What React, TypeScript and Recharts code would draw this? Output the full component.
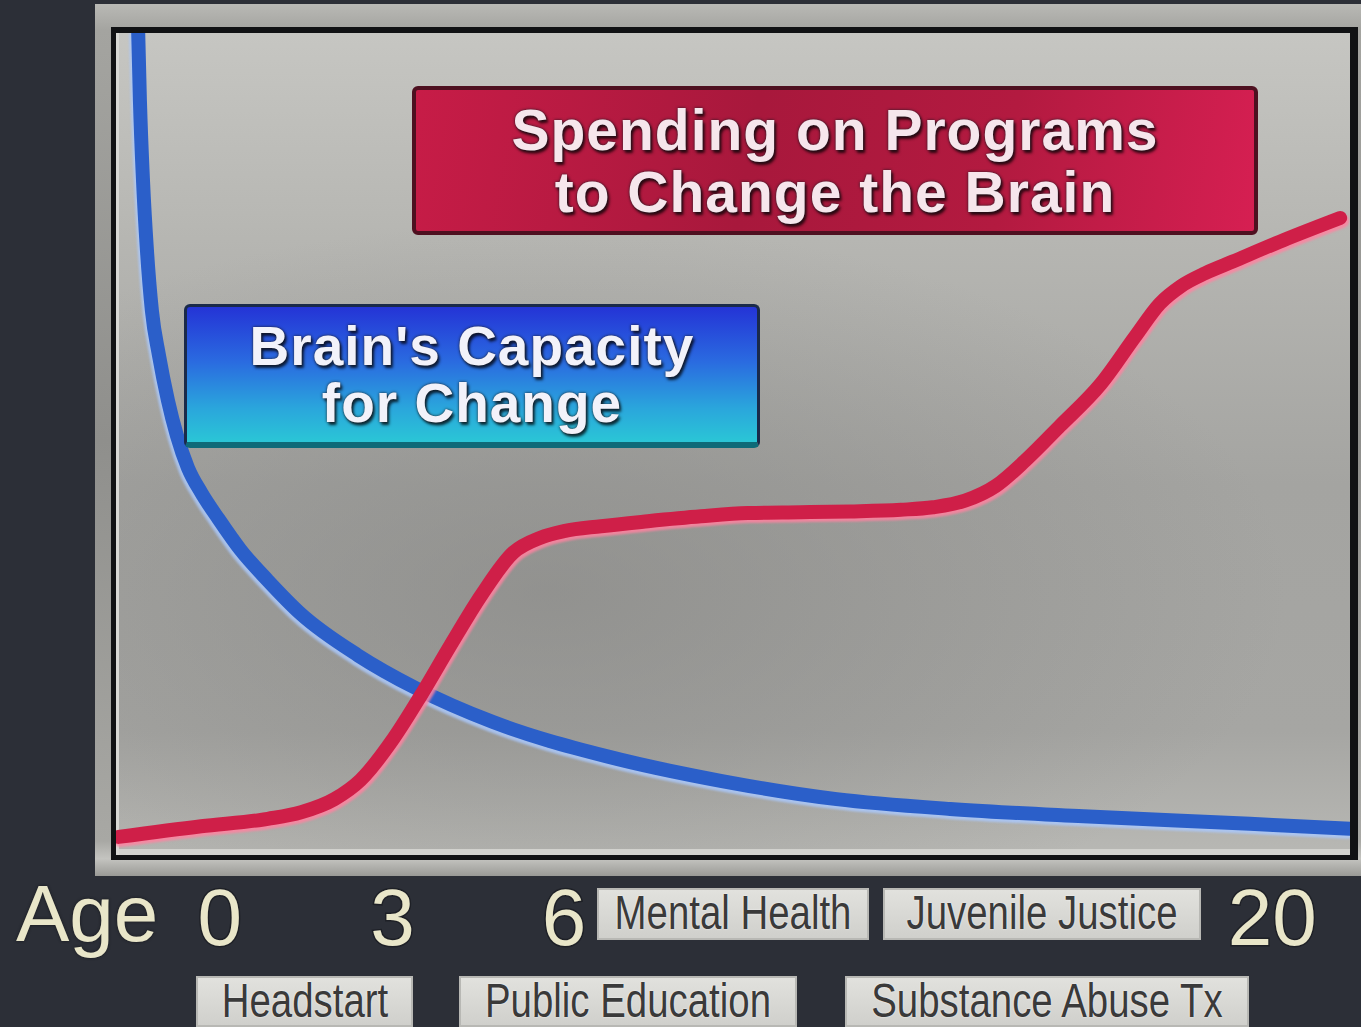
import React from 'react';
import { LineChart, Line, XAxis, YAxis } from 'recharts';

// positions across the timeline (0 = left edge of plot, 100 = right edge), levels 0..100
const brainX = [1.8, 1.94, 2.19, 2.51, 2.91, 3.48, 4.21, 4.94, 5.83, 6.9, 8.3, 10.1, 12.3, 15.0, 19.6, 24.3, 30.5, 39.8, 49.1, 58.4, 67.6, 78.4, 91.9, 100];
const brainY = [100, 91.7, 82.0, 73.5, 66.2, 60.8, 55.3, 51.0, 47.1, 44.1, 40.9, 37.1, 33.4, 29.3, 24.3, 20.3, 16.2, 12.0, 9.0, 6.8, 5.6, 4.7, 3.8, 3.2];

const spendX = [0.2, 6.9, 12.3, 15.0, 17.7, 19.8, 22.5, 24.7, 27.1, 29.6, 32.2, 34.4, 36.3, 39.3, 43.1, 47.4, 51.2, 55.5, 59.5, 63.6, 66.2, 68.8, 71.3, 73.7, 76.5, 79.8, 82.6, 84.6, 86.3, 88.3, 90.5, 94.6, 99.2];
const spendY = [2.2, 3.5, 4.4, 5.2, 6.8, 9.1, 14.2, 19.4, 25.5, 31.6, 36.8, 38.6, 39.4, 40.0, 40.6, 41.2, 41.6, 41.7, 41.8, 42.0, 42.3, 43.1, 44.9, 48.0, 52.2, 57.3, 63.1, 67.1, 69.2, 70.8, 72.2, 74.8, 77.5];

const ageTickPos = [8.4, 22.4, 36.3, 93.7];
const ageTickLabels = ['0', '3', '6', '20'];

const programsTop = ['Mental Health', 'Juvenile Justice'];
const programsBottom = ['Headstart', 'Public Education', 'Substance Abuse Tx'];

const brainData = brainX.map((x, i) => ({ x, y: brainY[i] }));
const spendData = spendX.map((x, i) => ({ x, y: spendY[i] }));

const W = 1361;
const H = 1027;
const cream = '#e9e6c9';
const font = '"Liberation Sans", Arial, sans-serif';

const AgeTick = (props: any) => {
  const { x, payload } = props;
  const i = ageTickPos.indexOf(payload.value);
  return (
    <text
      x={x}
      y={945}
      textAnchor="middle"
      fill={cream}
      stroke="#1e2026"
      strokeWidth={3}
      paintOrder="stroke"
      style={{ fontFamily: font, fontSize: 80 }}
    >
      {ageTickLabels[i]}
    </text>
  );
};

const ProgramBox = ({ label, left, top, width, height }: { label: string; left: number; top: number; width: number; height: number }) => (
  <div
    style={{
      position: 'absolute',
      left,
      top,
      width,
      height,
      background: 'linear-gradient(180deg, #e2e2de, #cfcfcb)',
      boxShadow: 'inset 0 0 0 2px #b8b8b4',
    }}
  >
    <span
      style={{
        position: 'absolute',
        left: '50%',
        top: 0,
        transform: 'translateX(-50%) scaleX(0.8)',
        whiteSpace: 'nowrap',
        fontFamily: font,
        fontSize: 48,
        lineHeight: `${height - 2}px`,
        color: '#3a3a3a',
        textShadow: '0 0 2px #fff',
      }}
    >
      {label}
    </span>
  </div>
);

const Callout = ({ lines, style, fontSize, lineHeight }: { lines: string[]; style: React.CSSProperties; fontSize: number; lineHeight: number }) => (
  <div
    style={{
      position: 'absolute',
      display: 'flex',
      flexDirection: 'column',
      alignItems: 'center',
      justifyContent: 'center',
      borderRadius: 6,
      fontFamily: font,
      fontWeight: 700,
      fontSize,
      lineHeight: `${lineHeight}px`,
      letterSpacing: 1,
      textShadow: '0 0 3px #1a1a22, 2px 3px 3px rgba(0,0,0,0.75)',
      ...style,
    }}
  >
    {lines.map((l) => (
      <div key={l}>{l}</div>
    ))}
  </div>
);

export default function App() {
  return (
    <div style={{ position: 'absolute', left: 0, top: 0, width: W, height: H, background: '#2c2f37', overflow: 'hidden' }}>
      <style>{`
        .blueLine .recharts-line-curve { filter: drop-shadow(-2px 3px 1px rgba(170,200,250,0.85)); }
        .redLine .recharts-line-curve { filter: drop-shadow(2px 3px 1px rgba(255,130,160,0.85)); }
      `}</style>

      {/* bevel frame */}
      <div
        style={{
          position: 'absolute',
          left: 95,
          top: 4,
          width: 1266,
          height: 872,
          background: 'linear-gradient(180deg, #b9b9b5 0%, #a4a4a0 3%, #8f8f8c 50%, #a8a8a4 96%, #c4c4c0 98%, #9a9a96 100%)',
        }}
      />
      {/* black inner border */}
      <div style={{ position: 'absolute', left: 111, top: 27, width: 1247, height: 833, background: '#111214' }} />
      {/* plot background */}
      <div
        style={{
          position: 'absolute',
          left: 116,
          top: 33,
          width: 1234,
          height: 822,
          background:
            'radial-gradient(ellipse 60% 45% at 35% 68%, rgba(130,130,128,0.55) 0%, rgba(130,130,128,0) 100%), linear-gradient(180deg, #c6c6c2 0%, #b6b6b2 25%, #a4a4a1 55%, #a6a6a3 85%, #b8b8b4 100%)',
          boxShadow: 'inset 3px 0 0 #d8d8d4, inset 0 -6px 0 #d2d2ce',
        }}
      />

      <div style={{ position: 'absolute', left: 0, top: 0 }}>
        <LineChart width={W} height={H} margin={{ top: 33, right: 11, bottom: 92, left: 116 }}>
          <XAxis
            dataKey="x"
            type="number"
            domain={[0, 100]}
            ticks={ageTickPos}
            axisLine={false}
            tickLine={false}
            height={80}
            tick={<AgeTick />}
            allowDataOverflow
          />
          <YAxis type="number" domain={[0, 100]} hide allowDataOverflow />
          <Line
            className="blueLine"
            data={brainData}
            dataKey="y"
            type="monotone"
            stroke="#2b5fc9"
            strokeWidth={14}
            dot={false}
            strokeLinecap="round"
            isAnimationActive={false}
          />
          <Line
            className="redLine"
            data={spendData}
            dataKey="y"
            type="monotone"
            stroke="#cf1f48"
            strokeWidth={14}
            dot={false}
            strokeLinecap="round"
            isAnimationActive={false}
          />
        </LineChart>
      </div>

      <Callout
        lines={["Brain's Capacity", 'for Change']}
        fontSize={55}
        lineHeight={57}
        style={{
          left: 184,
          top: 304,
          width: 576,
          height: 144,
          color: '#f2f2fa',
          background: 'linear-gradient(180deg, #2434d6 0%, #2a6ae0 40%, #2aa6dc 75%, #2ac6d6 100%)',
          border: '3px solid #1a2a4a',
          borderBottom: '6px solid #0e6a78',
          boxSizing: 'border-box',
        }}
      />
      <Callout
        lines={['Spending on Programs', 'to Change the Brain']}
        fontSize={57}
        lineHeight={62}
        style={{
          left: 412,
          top: 86,
          width: 846,
          height: 149,
          color: '#f6e6ec',
          background: 'linear-gradient(100deg, #c71c47 0%, #a8183c 40%, #b31a40 70%, #d61f52 100%)',
          border: '4px solid #4e1020',
          boxSizing: 'border-box',
        }}
      />

      {/* Age label */}
      <div
        style={{
          position: 'absolute',
          left: 16,
          top: 866,
          fontFamily: font,
          fontSize: 80,
          lineHeight: '96px',
          color: cream,
          textShadow: '0 0 3px #15161a',
        }}
      >
        Age
      </div>

      <ProgramBox label={programsTop[0]} left={597} top={888} width={272} height={52} />
      <ProgramBox label={programsTop[1]} left={883} top={888} width={318} height={52} />
      <ProgramBox label={programsBottom[0]} left={196} top={976} width={217} height={51} />
      <ProgramBox label={programsBottom[1]} left={459} top={976} width={338} height={51} />
      <ProgramBox label={programsBottom[2]} left={845} top={976} width={404} height={51} />
    </div>
  );
}
